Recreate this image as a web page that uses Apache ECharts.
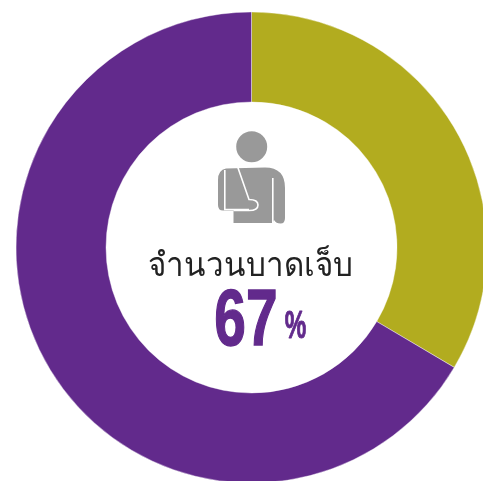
<!DOCTYPE html>
<html><head><meta charset="utf-8">
<style>html,body{margin:0;padding:0;background:#fff;overflow:hidden}#c{width:483px;height:481px}</style>
<script src="https://cdn.jsdelivr.net/npm/echarts@6/dist/echarts.min.js"></script>
</head><body><div id="c"></div>
<script>
const categories = ['อื่นๆ', 'จำนวนบาดเจ็บ'];
const values = [33.5, 66.5];
const colors = ['#B2AC1F', '#622A8C'];
const centerLabel = 'จำนวนบาดเจ็บ';
const centerValue = '67';
const centerUnit = '%';
const g = echarts.graphic;
g.registerShape('bodyShape', g.extendPath('M226 168.5 L265 167.5 Q285 167.5 285 188 L285 218 Q285 223.5 280.5 223.5 Q276 223.5 274 220 L272.5 223 L233.5 223 L233.5 210.5 L223 210.5 Q218 210.5 218 205 L218 180 Q218 170 226 168.5 Z', {}));
g.registerShape('slingShape', g.extendPath('M224.8 170 L224.8 209.5 L249 209.5 M237.7 167 L249 199.5 Q258 199.5 258 205 Q258 210.5 249 210.5 L233.5 210.5 M272.8 178 L272.8 224', {}));
const chart = echarts.init(document.getElementById('c'), null, {renderer:'canvas'});
const gray = '#999999', purple = '#622A8C';
chart.setOption({
  animation:false,
  series:[{type:'pie',center:[251.5,247.5],radius:[145.5,235.5],startAngle:90,clockwise:true,silent:true,
    label:{show:false},labelLine:{show:false},
    itemStyle:{borderColor:'#fff',borderWidth:0.4},
    data:categories.map((n,i)=>({name:n,value:values[i],itemStyle:{color:colors[i]}}))}],
  graphic:[
    {type:'circle',shape:{cx:251.7,cy:146.7,r:15.5},style:{fill:gray}},
    {type:'bodyShape',style:{fill:gray}},
    {type:'slingShape',style:{fill:null,stroke:'#fff',lineWidth:1.6}},
    {type:'text',scaleX:0.95,originX:250.5,originY:267,style:{text:centerLabel,x:250.5,y:267,align:'center',verticalAlign:'middle',font:'300 33px "Noto Sans", "DejaVu Sans", sans-serif',fill:'#222',stroke:'#fff',lineWidth:0.6}},
    {type:'text',scaleX:0.72,originX:246,originY:323,style:{text:centerValue,x:246,y:323,align:'center',verticalAlign:'middle',font:'bold 79px "Liberation Sans", sans-serif',fill:purple,stroke:purple,lineWidth:1.4}},
    {type:'text',scaleX:0.62,originX:295.5,originY:327,style:{text:centerUnit,x:295.5,y:327,align:'center',verticalAlign:'middle',font:'bold 39px "Liberation Sans", sans-serif',fill:purple,stroke:purple,lineWidth:1}}
  ]
});
</script></body></html>
